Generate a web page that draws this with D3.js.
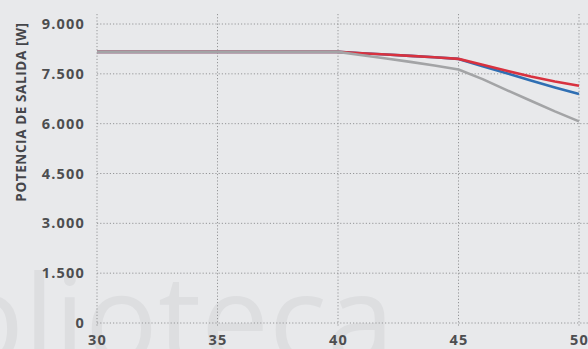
<!DOCTYPE html>
<html>
<head>
<meta charset="utf-8">
<script src="https://cdn.jsdelivr.net/npm/d3@7/dist/d3.min.js"></script>
<style>
  html, body { margin: 0; padding: 0; background: #e8e9eb; }
  svg { display: block; }
</style>
</head>
<body>
<svg id="chart" width="588" height="349"></svg>
<script>
// Temperature (°C) and output power (W) for three units
const temps = [30, 35, 40, 41, 42, 43, 44, 45, 46, 47, 48, 49, 50];
const powerRed  = [8160, 8160, 8160, 8120, 8080, 8040, 8000, 7950, 7770, 7590, 7420, 7270, 7140];
const powerBlue = [8160, 8160, 8160, 8120, 8080, 8040, 8000, 7950, 7730, 7520, 7300, 7090, 6890];
const powerGray = [8160, 8160, 8160, 8060, 7960, 7860, 7750, 7630, 7340, 7010, 6690, 6370, 6070];
const xTicks = [30, 35, 40, 45, 50];
const yTicks = [0, 1500, 3000, 4500, 6000, 7500, 9000];
const yTitle = "POTENCIA DE SALIDA [W]";
const watermark = "blioteca";

const W = 588, H = 349;
const svg = d3.select("#chart");

const x = d3.scaleLinear().domain([30, 50]).range([97, 579]);
const y = d3.scaleLinear().domain([0, 9000]).range([323, 24]);

// faint background lettering
svg.append("text")
  .attr("x", -50).attr("y", 362)
  .attr("font-family", "Open Sans, sans-serif")
  .attr("font-size", 121)
  .attr("fill", "#dddee0")
  .text(watermark);

const grid = svg.append("g");
// horizontal grid lines
grid.selectAll("line.h").data(yTicks).join("line")
  .attr("class", "h")
  .attr("x1", x(30)).attr("x2", W)
  .attr("y1", d => y(d)).attr("y2", d => y(d))
  .attr("stroke", "#959698").attr("stroke-width", 1)
  .attr("stroke-dasharray", "1.2,2");
// vertical grid lines
grid.selectAll("line.v").data(xTicks).join("line")
  .attr("class", "v")
  .attr("x1", d => x(d)).attr("x2", d => x(d))
  .attr("y1", 14).attr("y2", y(0) + 4)
  .attr("stroke", "#959698").attr("stroke-width", 1)
  .attr("stroke-dasharray", "1.2,2");

const labelStyle = sel => sel
  .attr("font-family", "Open Sans, sans-serif")
  .attr("font-weight", "bold")
  .attr("font-size", 14.5)
  .attr("letter-spacing", 1.2)
  .attr("fill", "#4d4e50");

// axes: labels only
const yAxis = d3.axisLeft(y).tickValues(yTicks).tickSize(0).tickPadding(0)
  .tickFormat(d => d === 0 ? "0" : d3.format(",")(d).replace(",", "."));
const gy = svg.append("g").attr("transform", "translate(85,0)").call(yAxis);
gy.select(".domain").remove();
gy.selectAll("text").call(labelStyle);

const xAxis = d3.axisBottom(x).tickValues(xTicks).tickSize(0).tickPadding(0);
const gx = svg.append("g").attr("transform", "translate(0,334.5)").call(xAxis);
gx.select(".domain").remove();
gx.selectAll("text").call(labelStyle);

// y axis title
svg.append("text")
  .attr("transform", "translate(26,112) rotate(-90)")
  .attr("text-anchor", "middle")
  .attr("font-family", "Open Sans, sans-serif")
  .attr("font-weight", "bold")
  .attr("font-size", 13.5)
  .attr("letter-spacing", 0.6)
  .attr("fill", "#45464a")
  .text(yTitle);

// series lines
const line = d3.line().x((d, i) => x(temps[i])).y(d => y(d));
const series = [
  { values: powerBlue, color: "#2f6fb3" },
  { values: powerRed,  color: "#d8323f" },
  { values: powerGray, color: "#a3a4a6" }
];
svg.append("g").selectAll("path").data(series).join("path")
  .attr("d", d => line(d.values))
  .attr("fill", "none")
  .attr("stroke", d => d.color)
  .attr("stroke-width", 2.6)
  .attr("stroke-linejoin", "round");
</script>
</body>
</html>
